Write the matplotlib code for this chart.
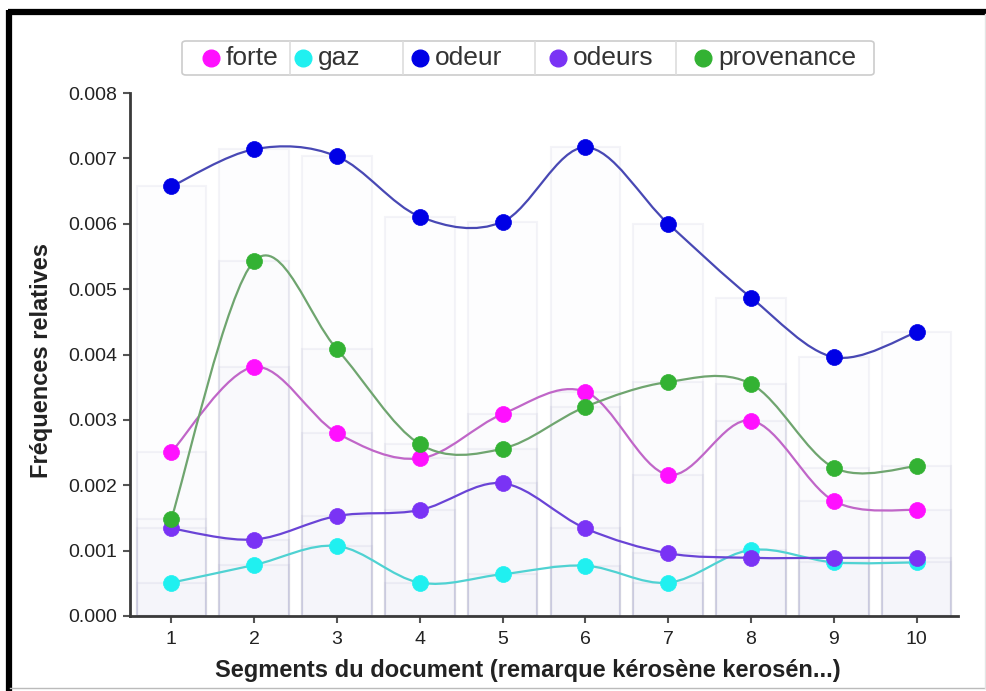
import numpy as np
import matplotlib
matplotlib.use("Agg")
import matplotlib.pyplot as plt
from matplotlib.path import Path
from matplotlib.patches import PathPatch, FancyBboxPatch
from matplotlib.lines import Line2D

plt.rcParams['font.family'] = ['Liberation Sans', 'DejaVu Sans']

# Relative frequencies of each term across the 10 document segments
segments = [1, 2, 3, 4, 5, 6, 7, 8, 9, 10]
forte = [0.00251, 0.00381, 0.00280, 0.00241, 0.00309, 0.00343, 0.00216, 0.00299, 0.00176, 0.00162]
gaz = [0.00051, 0.00078, 0.00107, 0.00051, 0.00064, 0.00077, 0.00051, 0.00101, 0.00082, 0.00082]
odeur = [0.00657, 0.00714, 0.00703, 0.00611, 0.00603, 0.00717, 0.00600, 0.00487, 0.00396, 0.00434]
odeurs = [0.00134, 0.00117, 0.00153, 0.00162, 0.00203, 0.00134, 0.00096, 0.00089, 0.00089, 0.00089]
provenance = [0.00149, 0.00543, 0.00408, 0.00263, 0.00256, 0.00320, 0.00358, 0.00355, 0.00227, 0.00229]

series_names = ['forte', 'gaz', 'odeur', 'odeurs', 'provenance']
series_values = [forte, gaz, odeur, odeurs, provenance]
marker_colors = ['#ff10ff', '#20f0f0', '#0000e6', '#7a33f5', '#33b233']
line_colors = ['#c066c8', '#4fd2d2', '#4848b4', '#6a44d6', '#6fa56f']
y_ticks = [0.000, 0.001, 0.002, 0.003, 0.004, 0.005, 0.006, 0.007, 0.008]

W, H = 987, 691
fig = plt.figure(figsize=(W / 100, H / 100), dpi=100)


def fx(px):
    return px / W


def fy(py):
    return 1 - py / H


ax = fig.add_axes([fx(130), fy(616), fx(958) - fx(130), fy(93) - fy(616)])
ax.set_xlim(0.5, 10.5)
ax.set_ylim(0, 0.008)
ax.patch.set_alpha(0)


def cardinal_path(xs, ys):
    """Cardinal spline (tension 0) through the points, as cubic Bezier segments."""
    pts = np.column_stack([xs, ys]).astype(float)
    ext = np.vstack([pts[0], pts, pts[-1]])
    verts = [pts[0]]
    codes = [Path.MOVETO]
    for i in range(len(pts) - 1):
        p0, p1, p2, p3 = ext[i], ext[i + 1], ext[i + 2], ext[i + 3]
        c1 = p1 + (p2 - p0) / 6.0
        c2 = p2 - (p3 - p1) / 6.0
        verts += [c1, c2, p2]
        codes += [Path.CURVE4] * 3
    return Path(verts, codes)


# translucent background bars, one per term and segment
for vals in series_values:
    ax.bar(segments, vals, width=0.84, facecolor=(0.5, 0.5, 0.95, 0.011),
           edgecolor=(0.55, 0.55, 0.7, 0.09), linewidth=1.5, zorder=1)

# smooth lines with point markers
for name, vals, mc, lc in zip(series_names, series_values, marker_colors, line_colors):
    ax.add_patch(PathPatch(cardinal_path(segments, vals), facecolor='none',
                           edgecolor=lc, linewidth=1.6, zorder=3))
    ax.plot(segments, vals, linestyle='none', marker='o', markersize=11.5,
            markerfacecolor=mc, markeredgecolor=mc, markeredgewidth=0.5, zorder=4)

for side in ('top', 'right'):
    ax.spines[side].set_visible(False)
for side in ('left', 'bottom'):
    ax.spines[side].set_color('#3a3a3a')
    ax.spines[side].set_linewidth(2.0)

ax.set_xticks(segments)
ax.set_xticklabels([str(s) for s in segments])
ax.set_yticks(y_ticks)
ax.set_yticklabels([f'{t:.3f}' for t in y_ticks])
ax.tick_params(axis='both', colors='#555555', labelcolor='#222222',
               labelsize=14, length=5, width=1.5, pad=4)
ax.tick_params(axis='x', pad=6)

fig.text(fx(42), fy(361), 'Fréquences relatives', rotation=90, ha='center',
         va='center', fontsize=17, fontweight='bold', color='#222222')
fig.text(fx(528), fy(671), 'Segments du document (remarque kérosène kerosén...)',
         ha='center', va='center', fontsize=17, fontweight='bold', color='#222222')

# legend bar at the top
fig.add_artist(FancyBboxPatch((fx(182), fy(75)), fx(874) - fx(182), fy(41) - fy(75),
                              boxstyle='round,pad=0,rounding_size=0.004',
                              facecolor='white', edgecolor='#cccccc', linewidth=1.2,
                              transform=fig.transFigure))
for sx in (290, 403, 535, 676):
    fig.add_artist(Line2D([fx(sx), fx(sx)], [fy(42), fy(74)], color='#dddddd',
                          linewidth=1.2, transform=fig.transFigure))
legend_marker_x = [211, 303, 420, 558, 703]
for name, mc, mx in zip(series_names, marker_colors, legend_marker_x):
    fig.add_artist(Line2D([fx(mx)], [fy(58)], marker='o', markersize=12,
                          markerfacecolor=mc, markeredgecolor=mc, linestyle='none',
                          transform=fig.transFigure))
    fig.text(fx(mx + 15), fy(58), name, ha='left', va='center', fontsize=19,
             color='#333333')

# outer frame: heavy top and left rules, light bottom and right edges
fig.add_artist(Line2D([fx(8), fx(987)], [fy(12), fy(12)], color='black',
                      linewidth=4.5, transform=fig.transFigure, solid_capstyle='butt'))
fig.add_artist(Line2D([fx(9), fx(9)], [fy(10), fy(691)], color='black',
                      linewidth=4.5, transform=fig.transFigure, solid_capstyle='butt'))
fig.add_artist(Line2D([fx(10), fx(985)], [fy(688), fy(688)], color='#bbbbbb',
                      linewidth=1.0, transform=fig.transFigure))
fig.add_artist(Line2D([fx(985), fx(985)], [fy(14), fy(688)], color='#e4e4e4',
                      linewidth=1.0, transform=fig.transFigure))

fig.savefig('out.png', dpi=100, facecolor='white')
